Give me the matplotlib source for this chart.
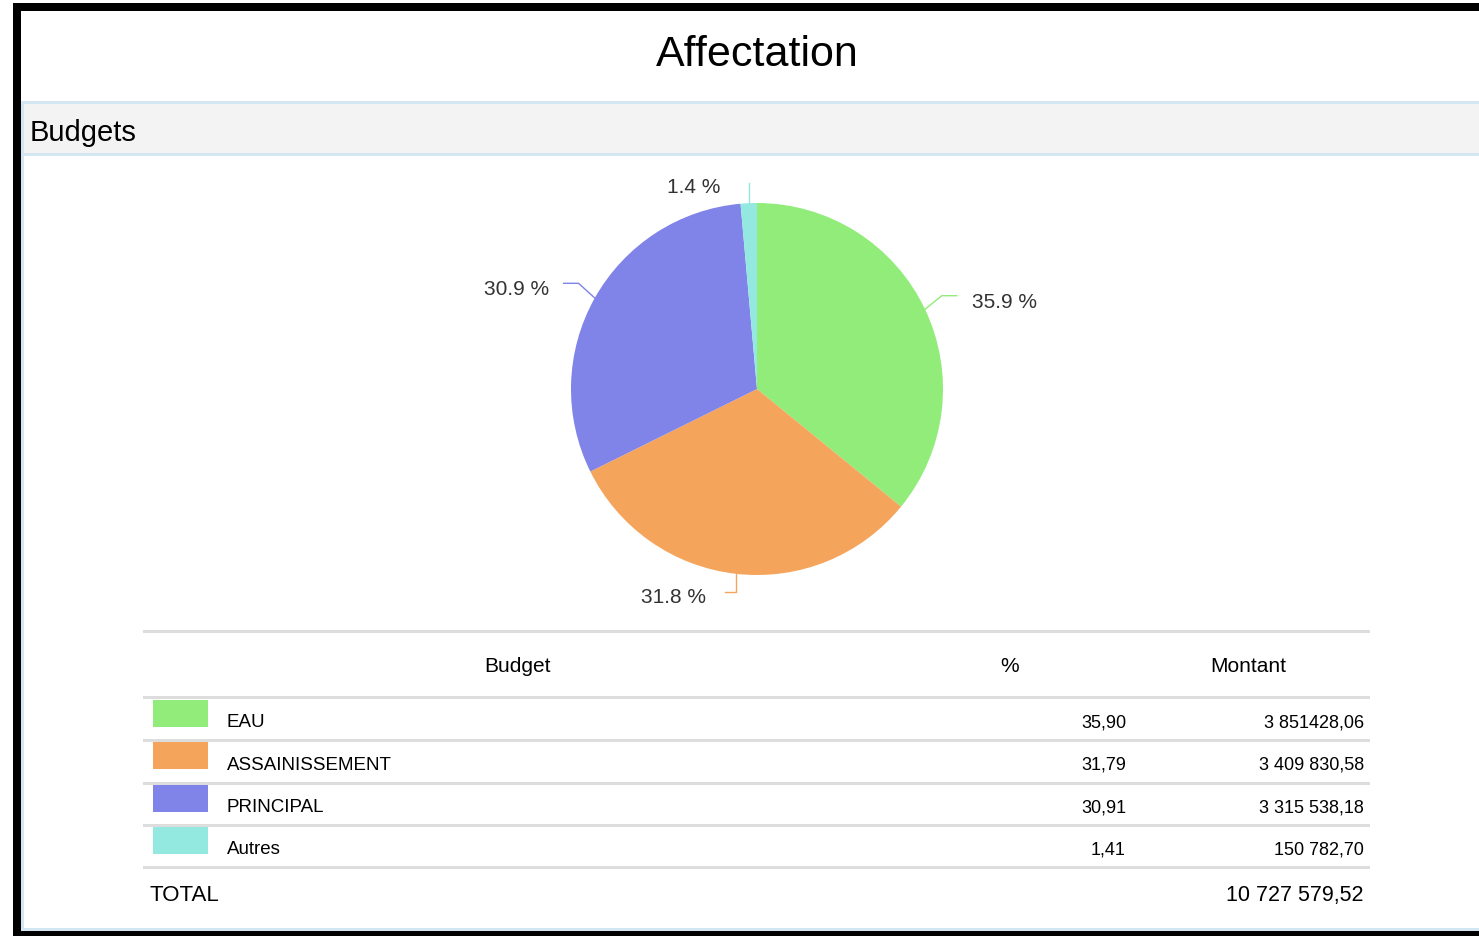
import numpy as np
import matplotlib
matplotlib.use('Agg')
import matplotlib.pyplot as plt
from matplotlib.patches import Rectangle

plt.rcParams['font.family'] = ['Liberation Sans', 'DejaVu Sans']

# budget breakdown
budgets = ['EAU', 'ASSAINISSEMENT', 'PRINCIPAL', 'Autres']
percents = [35.90, 31.79, 30.91, 1.41]
amounts = ['3 851428,06', '3 409 830,58', '3 315 538,18', '150 782,70']
total = '10 727 579,52'
colors = ['#91ec7a', '#f5a45c', '#8083e8', '#93e9e0']

W, H = 1479, 937
fig = plt.figure(figsize=(W / 100, H / 100), dpi=100)

# page background in pixel coordinates
bg = fig.add_axes([0, 0, 1, 1])
bg.set_xlim(0, W)
bg.set_ylim(H, 0)
bg.axis('off')

# black frame (top, left, bottom) with light blue inner edges
bg.add_patch(Rectangle((13, 4), W - 13, 8, color='black', lw=0))
bg.add_patch(Rectangle((13, 4), 8, H - 4, color='black', lw=0))
bg.add_patch(Rectangle((13, 932), W - 13, 5, color='black', lw=0))
bg.add_patch(Rectangle((21, 102), 3, 830, color='#d3e6f2', lw=0))
bg.add_patch(Rectangle((21, 929), W - 21, 3, color='#d3e6f2', lw=0))

bg.text(757, 55, 'Affectation', fontsize=31, ha='center', va='center', color='black')

# section header band
bg.add_patch(Rectangle((21, 102), W - 21, 55, color='#d3e6f2', lw=0))
bg.add_patch(Rectangle((24, 105), W - 24, 49, color='#f3f3f3', lw=0))
bg.text(30, 133, 'Budgets', fontsize=21, ha='left', va='center', color='black')

# pie
cx, cy, r = 757, 390, 186
pie_ax = fig.add_axes([(cx - r) / W, (H - cy - r) / H, 2 * r / W, 2 * r / H])
wedges, _ = pie_ax.pie(percents, colors=colors, startangle=90, counterclock=False,
                       wedgeprops=dict(linewidth=0))
pie_ax.set_xlim(-1, 1)
pie_ax.set_ylim(-1, 1)
pie_ax.set_clip_on(False)

for w, p, c in zip(wedges, percents, colors):
    ang = np.deg2rad((w.theta1 + w.theta2) / 2)
    x0, y0 = np.cos(ang), np.sin(ang)
    label = '%.1f %%' % p
    kw = dict(fontsize=15, color='#333333', va='center', clip_on=False)
    if abs(x0) < 0.2 and y0 > 0:
        # thin slice at the top: straight up, label to the left
        y1 = 1.11
        pie_ax.plot([x0, x0], [y0, y1], color=c, lw=1, clip_on=False)
        pie_ax.text(x0 - 0.15, y1 - 0.02, label, ha='right', **kw)
    elif abs(x0) < 0.2:
        # bottom slice: down, short hook to the left
        y1 = y0 - 0.1
        x2 = x0 - 0.06
        pie_ax.plot([x0, x0, x2], [y0, y1, y1], color=c, lw=1, clip_on=False)
        pie_ax.text(x2 - 0.1, y1 - 0.02, label, ha='right', **kw)
    else:
        side = 1 if x0 > 0 else -1
        x1, y1 = 1.1 * x0, 1.1 * y0 + 0.03
        x2 = x1 + side * 0.08
        pie_ax.plot([x0, x1, x2], [y0, y1, y1], color=c, lw=1, clip_on=False)
        pie_ax.text(x2 + side * 0.08, y1 - 0.03, label,
                    ha='left' if side > 0 else 'right', **kw)

# table
left, right = 143, 1370
line_c = '#dddddd'
bg.add_patch(Rectangle((left, 631), right - left, 3, color=line_c, lw=0))
bg.text(517, 667, 'Budget', fontsize=15, ha='center', va='center')
bg.text(1010, 667, '%', fontsize=15, ha='center', va='center')
bg.text(1248, 667, 'Montant', fontsize=15, ha='center', va='center')
bg.add_patch(Rectangle((left, 697), right - left, 3, color=line_c, lw=0))

row_top = 700
row_h = 42.3
for i, (name, p, amt, c) in enumerate(zip(budgets, percents, amounts, colors)):
    y = row_top + i * row_h
    bg.add_patch(Rectangle((153, y + 1), 55, 27, color=c, lw=0))
    ty = y + 23
    bg.text(227, ty, name, fontsize=13.5, ha='left', va='center')
    bg.text(1126, ty, ('%.2f' % p).replace('.', ','), fontsize=13, ha='right', va='center')
    bg.text(1364, ty, amt, fontsize=13, ha='right', va='center')
    bg.add_patch(Rectangle((left, y + row_h - 2), right - left, 3, color=line_c, lw=0))

bg.text(149, 896, 'TOTAL', fontsize=16, ha='left', va='center')
bg.text(1364, 896, total, fontsize=15.5, ha='right', va='center')

fig.savefig('out.png', dpi=100, facecolor='white')
